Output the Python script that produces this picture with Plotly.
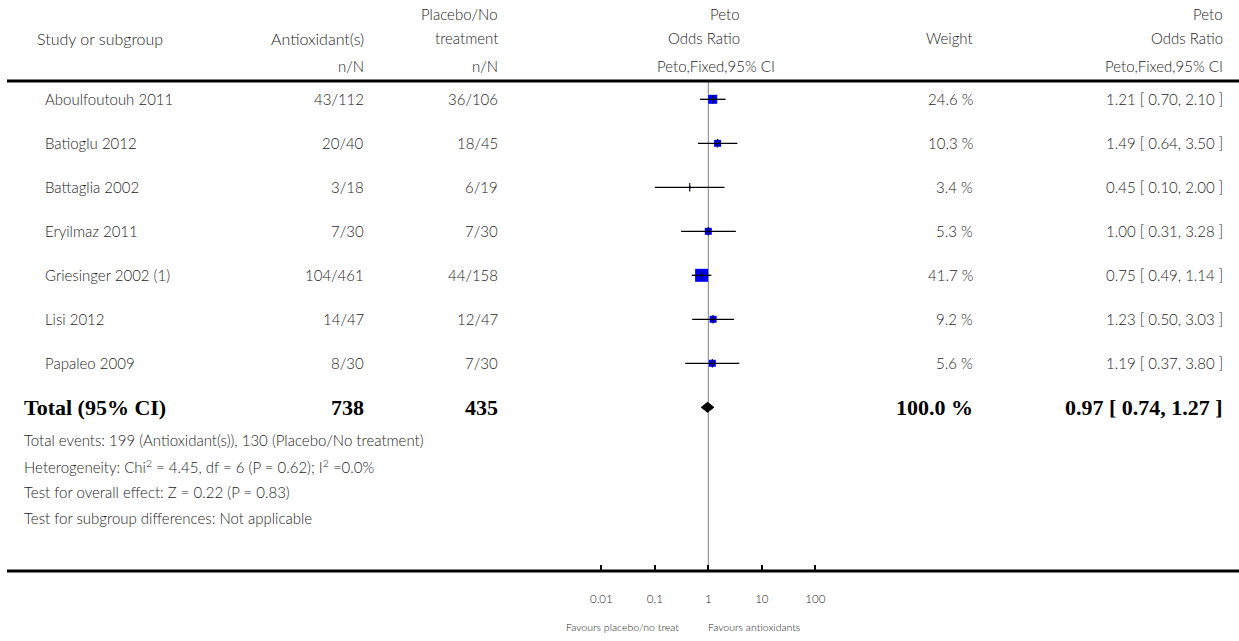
import plotly.graph_objects as go

# ---------------- data ----------------
studies = ["Aboulfoutouh 2011", "Batioglu 2012", "Battaglia 2002", "Eryilmaz 2011",
           "Griesinger 2002 (1)", "Lisi 2012", "Papaleo 2009"]
antiox_nN = ["43/112", "20/40", "3/18", "7/30", "104/461", "14/47", "8/30"]
placebo_nN = ["36/106", "18/45", "6/19", "7/30", "44/158", "12/47", "7/30"]
weights = [24.6, 10.3, 3.4, 5.3, 41.7, 9.2, 5.6]
or_est = [1.21, 1.49, 0.45, 1.00, 0.75, 1.23, 1.19]
or_low = [0.70, 0.64, 0.10, 0.31, 0.49, 0.50, 0.37]
or_high = [2.10, 3.50, 2.00, 3.28, 1.14, 3.03, 3.80]

total_label = "Total (95% CI)"
total_antiox = "738"
total_placebo = "435"
total_weight = 100.0
total_est, total_low, total_high = 0.97, 0.74, 1.27

footnotes = [
    "Total events: 199 (Antioxidant(s)), 130 (Placebo/No treatment)",
    "Heterogeneity: Chi<sup>2</sup> = 4.45, df = 6 (P = 0.62); I<sup>2</sup> =0.0%",
    "Test for overall effect: Z = 0.22 (P = 0.83)",
    "Test for subgroup differences: Not applicable",
]
tick_vals = [0.01, 0.1, 1, 10, 100]
tick_text = ["0.01", "0.1", "1", "10", "100"]
favours_left = "Favours placebo/no treat"
favours_right = "Favours antioxidants"

# ---------------- styles / layout constants ----------------
W, H = 1239, 641
FONT = "Lato"
TXT = "#1e1e1e"
SERIF = "Liberation Serif"
FS = 15
marker_px = [9, 7, 2, 7, 13, 7, 7]     # square side (style)
ROW0, ROWSTEP = 99.3, 44.0             # pixel centre of first row, row spacing
HEAD_LINE_Y, AXIS_Y = 81, 571
PLOT_X0, PLOT_X1 = 560, 860            # pixel span of forest axis domain
ONE_PX, DECADE_PX = 708.3, 53.5

def px(x):
    return x / W

def py(y):
    return 1 - y / H

row_y = [ROW0 + ROWSTEP * i for i in range(len(studies))]
total_y = ROW0 + ROWSTEP * len(studies)

fig = go.Figure()

# squares
fig.add_trace(go.Scatter(
    x=or_est, y=row_y, mode="markers", opacity=1,
    marker=dict(symbol="square", size=marker_px, color="#0000FF", opacity=1,
                line=dict(width=0)),
    hoverinfo="skip", showlegend=False))
# CI lines
fig.add_trace(go.Scatter(
    x=or_est, y=row_y, mode="markers",
    marker=dict(size=1, color="rgba(0,0,0,0)"),
    error_x=dict(type="data", symmetric=False,
                 array=[h - e for h, e in zip(or_high, or_est)],
                 arrayminus=[e - l for e, l in zip(or_est, or_low)],
                 width=0, thickness=1.3, color="black"),
    hoverinfo="skip", showlegend=False))
# point ticks
fig.add_trace(go.Scatter(
    x=or_est, y=row_y, mode="markers",
    marker=dict(symbol="line-ns", size=6, line=dict(width=1.1, color="black")),
    hoverinfo="skip", showlegend=False))
# diamond
dh = 5
fig.add_trace(go.Scatter(
    x=[total_low, total_est, total_high, total_est, total_low],
    y=[total_y, total_y - dh, total_y, total_y + dh, total_y],
    mode="lines", fill="toself", fillcolor="black",
    line=dict(color="black", width=1), hoverinfo="skip", showlegend=False))

# reference line at 1
fig.add_shape(type="line", xref="x", yref="y", x0=1, x1=1, y0=HEAD_LINE_Y, y1=AXIS_Y,
              line=dict(color="#808080", width=1), layer="below")
# header + bottom lines
for yl in (HEAD_LINE_Y, AXIS_Y):
    fig.add_shape(type="line", xref="paper", yref="paper", x0=px(7), x1=1,
                  y0=py(yl), y1=py(yl), line=dict(color="black", width=3))

ann = []

def T(x, y, s, anchor="left", size=FS, color=TXT, family=FONT, weight=300):
    ann.append(dict(x=px(x), y=py(y), xref="paper", yref="paper", text=s,
                    showarrow=False, xanchor=anchor, yanchor="middle",
                    font=dict(family=family, size=size, color=color, weight=weight)))

# header
T(35, 38, "Study or subgroup", size=16)
T(366, 38, "Antioxidant(s)", "right", size=16)
T(500, 14, "Placebo/No", "right")
T(500, 38, "treatment", "right")
T(742, 14, "Peto", "right")
T(742, 38, "Odds Ratio", "right")
T(975, 38, "Weight", "right")
T(1225, 14, "Peto", "right")
T(1225, 38, "Odds Ratio", "right")
T(366, 66, "n/N", "right")
T(500, 66, "n/N", "right")
T(777, 66, "Peto,Fixed,95% CI", "right")
T(1225, 66, "Peto,Fixed,95% CI", "right")

for i, name in enumerate(studies):
    y = row_y[i]
    T(43, y, name)
    T(366, y, antiox_nN[i], "right")
    T(500, y, placebo_nN[i], "right")
    T(975, y, f"{weights[i]:.1f} %", "right")
    T(1225, y, f"{or_est[i]:.2f} [ {or_low[i]:.2f}, {or_high[i]:.2f} ]", "right")

B = dict(size=22, color="black", family=SERIF, weight=700)
T(22, total_y, f"<b>{total_label}</b>", **B)
T(366, total_y, f"<b>{total_antiox}</b>", "right", **B)
T(500, total_y, f"<b>{total_placebo}</b>", "right", **B)
T(975, total_y, f"<b>{total_weight:.1f} %</b>", "right", **B)
T(1225, total_y, f"<b>{total_est:.2f} [ {total_low:.2f}, {total_high:.2f} ]</b>", "right", **B)

for i, s in enumerate(footnotes):
    T(22, 440 + 26 * i, s)

T(681, 627, favours_left, "right", size=10.5)
T(706, 627, favours_right, "left", size=10.5)

lo_log = (PLOT_X0 - ONE_PX) / DECADE_PX
hi_log = (PLOT_X1 - ONE_PX) / DECADE_PX

fig.update_layout(
    width=W, height=H, margin=dict(l=0, r=0, t=0, b=0),
    paper_bgcolor="white", plot_bgcolor="rgba(0,0,0,0)",
    annotations=ann,
    xaxis=dict(type="log", domain=[px(PLOT_X0), px(PLOT_X1)], range=[lo_log, hi_log],
               tickvals=tick_vals, ticktext=tick_text, ticks="inside", ticklen=6,
               tickwidth=2, tickcolor="black", showline=False, showgrid=False,
               zeroline=False, ticklabelstandoff=19,
               tickfont=dict(family=FONT, size=11.5, color=TXT, weight=300), fixedrange=True),
    yaxis=dict(domain=[py(AXIS_Y), 1], range=[AXIS_Y, 0], visible=False,
               showgrid=False, zeroline=False, fixedrange=True),
)

fig.write_html("out.html", config={"displayModeBar": False},
               post_script="document.body.style.margin='0';document.body.style.padding='0';")
